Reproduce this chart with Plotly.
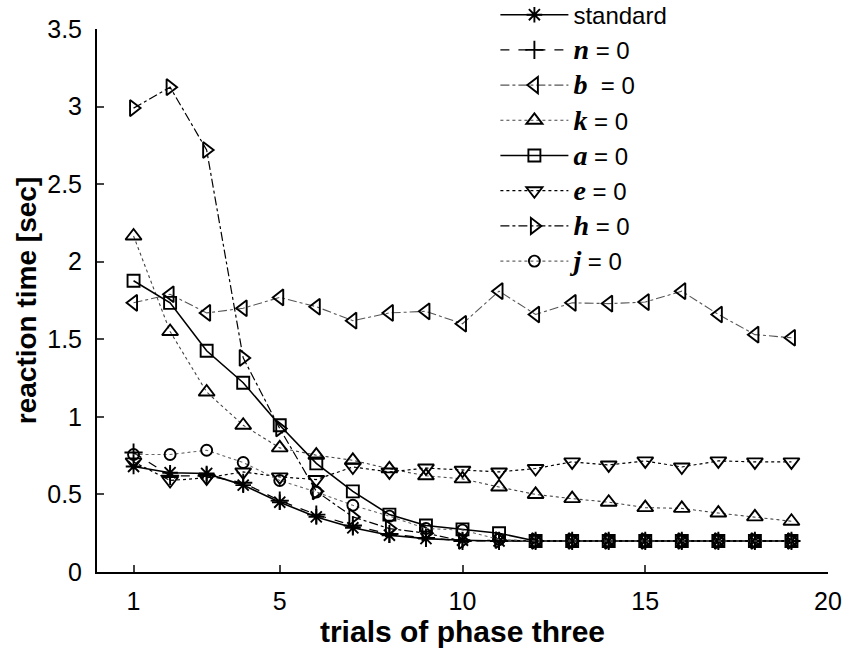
import plotly.graph_objects as go

trials = list(range(1, 20))

standard = [0.68, 0.64, 0.635, 0.56, 0.45, 0.355, 0.285, 0.237, 0.215, 0.205,
            0.2, 0.2, 0.2, 0.2, 0.2, 0.2, 0.2, 0.2, 0.2]
n_zero = [0.77, 0.62, 0.62, 0.575, 0.46, 0.37, 0.30, 0.245, 0.22, 0.2,
          0.2, 0.2, 0.2, 0.2, 0.2, 0.2, 0.2, 0.2, 0.2]
b_zero = [1.735, 1.79, 1.67, 1.70, 1.77, 1.71, 1.62, 1.67, 1.68, 1.60,
          1.81, 1.66, 1.735, 1.73, 1.74, 1.81, 1.66, 1.53, 1.51]
k_zero = [2.166, 1.55, 1.16, 0.946, 0.80, 0.753, 0.72, 0.665, 0.62, 0.60,
          0.548, 0.50, 0.473, 0.45, 0.415, 0.41, 0.38, 0.355, 0.327]
a_zero = [1.877, 1.735, 1.426, 1.22, 0.946, 0.70, 0.52, 0.37, 0.30, 0.275,
          0.25, 0.2, 0.2, 0.2, 0.2, 0.2, 0.2, 0.2, 0.2]
e_zero = [0.71, 0.59, 0.607, 0.645, 0.613, 0.596, 0.677, 0.645, 0.67, 0.656,
          0.645, 0.667, 0.71, 0.69, 0.716, 0.677, 0.716, 0.71, 0.71]
h_zero = [2.99, 3.125, 2.72, 1.38, 0.925, 0.52, 0.355, 0.28, 0.25, 0.2,
          0.205, 0.2, 0.2, 0.2, 0.2, 0.2, 0.2, 0.2, 0.2]
j_zero = [0.757, 0.757, 0.785, 0.706, 0.59, 0.516, 0.43, 0.36, 0.28, 0.27,
          0.21, 0.2, 0.2, 0.2, 0.2, 0.2, 0.2, 0.2, 0.2]

y_ticks = [0, 0.5, 1, 1.5, 2, 2.5, 3, 3.5]
y_tick_text = ["0", "0.5", "1", "1.5", "2", "2.5", "3", "3.5"]
x_ticks = [1, 5, 10, 15, 20]


def sym(letter, extra=""):
    return ("<span style='font-family:Liberation Serif;font-size:28px'><b><i>"
            + letter + "</i></b></span>" + extra + " = 0")


series = [
    ("standard", standard, "asterisk-open", "solid", "black", 1.6, 13),
    (sym("n"), n_zero, "cross-thin-open", "dash", "black", 1.2, 13),
    (sym("b", " "), b_zero, "triangle-left-open", "dashdot", "#555555", 1.1, 14),
    (sym("k"), k_zero, "triangle-up-open", "dot", "#444444", 1.1, 14),
    (sym("a"), a_zero, "square-open", "solid", "black", 1.6, 12),
    (sym("e"), e_zero, "triangle-down-open", "dot", "black", 1.2, 14),
    (sym("h"), h_zero, "triangle-right-open", "dashdot", "black", 1.2, 14),
    (sym("j"), j_zero, "circle-open", "dot", "#666666", 1.1, 11),
]

fig = go.Figure()
for i, (name, vals, symbol, dash, color, lw, ms) in enumerate(series):
    fig.add_trace(go.Scatter(
        x=trials, y=vals, name=name, mode="lines+markers",
        legendgroup="g%d" % i,
        line=dict(color=color, dash=dash, width=lw),
        marker=dict(symbol=symbol, size=ms, color="black",
                    line=dict(color="black", width=1.9)),
    ))

fig.update_layout(
    width=845, height=653,
    margin=dict(l=97, r=17, t=29, b=81, autoexpand=False),
    paper_bgcolor="white", plot_bgcolor="white",
    font=dict(family="Liberation Sans, Arial, sans-serif", size=24, color="black"),
    showlegend=True,
    legend=dict(x=0.545, y=1.067, xanchor="left", yanchor="top",
                bgcolor="rgba(0,0,0,0)", font=dict(size=24),
                itemwidth=68, tracegroupgap=1),
    xaxis=dict(range=[0, 20], tickvals=x_ticks, ticks="inside", ticklen=7,
               tickwidth=1.5, showline=True, linecolor="black", linewidth=2,
               showgrid=False, zeroline=False, ticklabelstandoff=6,
               tickfont=dict(size=25),
               title=dict(text="<b>trials of phase three</b>", standoff=2,
                          font=dict(size=30))),
    yaxis=dict(range=[0, 3.5], tickvals=y_ticks, ticktext=y_tick_text,
               ticks="inside", ticklen=7, tickwidth=1.5, showline=True,
               linecolor="black", linewidth=2, showgrid=False, zeroline=False,
               ticklabelstandoff=8, tickfont=dict(size=25),
               title=dict(text="<b>reaction time [sec]</b>", standoff=2,
                          font=dict(size=28))),
)

fig.write_html("out.html")
